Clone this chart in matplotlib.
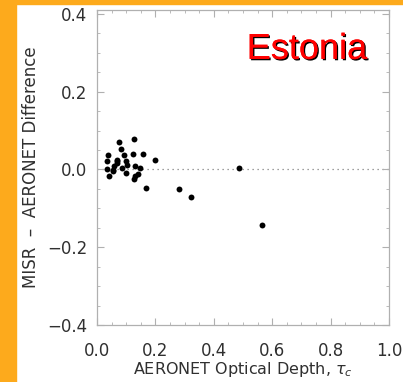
import numpy as np
import matplotlib.pyplot as plt
import matplotlib.patheffects as pe
from matplotlib.ticker import MultipleLocator

# MISR - AERONET differences, Estonia
aeronet_tau = [0.038, 0.035, 0.035, 0.042, 0.056, 0.058, 0.067, 0.074, 0.082, 0.070,
               0.085, 0.093, 0.099, 0.098, 0.104, 0.122, 0.127, 0.130, 0.131, 0.128,
               0.140, 0.147, 0.156, 0.168, 0.199, 0.281, 0.321, 0.485, 0.566,
               0.056, 0.067]
difference = [0.036, 0.021, 0.001, -0.016, -0.005, 0.008, 0.016, 0.071, 0.053, 0.025,
              0.003, 0.036, 0.021, -0.010, 0.012, 0.040, 0.079, 0.008, -0.016, -0.024,
              -0.012, 0.003, 0.041, -0.047, 0.025, -0.051, -0.070, 0.003, -0.144,
              -0.001, 0.023]

x_ticks = [0.0, 0.2, 0.4, 0.6, 0.8, 1.0]
y_ticks = [-0.4, -0.2, 0.0, 0.2, 0.4]

orange = "#FDAA1C"
gray = "#B0B0B0"
txt = "#303030"

fig = plt.figure(figsize=(4.03, 3.82), dpi=100)
fig.patch.set_facecolor("white")
# orange slide border on the left and top
fig.patches.append(plt.Rectangle((0, 0), 16 / 403, 1, transform=fig.transFigure,
                                 color=orange, zorder=0))
fig.patches.append(plt.Rectangle((0, 1 - 4 / 382), 1, 4 / 382, transform=fig.transFigure,
                                 color=orange, zorder=0))

ax = fig.add_axes([97 / 403, 1 - 325 / 382, 292 / 403, 315 / 382])
ax.scatter(aeronet_tau, difference, s=18, color="black", zorder=3, linewidths=0)
ax.axhline(0, color="#808080", linestyle=(0, (1, 3)), linewidth=0.9, zorder=1)

ax.set_xlim(0, 1.0)
ax.set_ylim(-0.4, 0.41)
ax.set_xticks(x_ticks)
ax.set_yticks(y_ticks)
ax.set_xticklabels(["%.1f" % v for v in x_ticks])
ax.set_yticklabels(["%.1f" % v if v >= 0 else "\u2212%.1f" % -v for v in y_ticks])
ax.xaxis.set_minor_locator(MultipleLocator(0.05))
ax.yaxis.set_minor_locator(MultipleLocator(0.05))
ax.tick_params(which="both", direction="in", top=True, right=True, color=gray,
               labelcolor=txt, labelsize=12)
ax.tick_params(which="major", length=5)
ax.tick_params(which="minor", length=2.5)
ax.tick_params(axis="x", pad=12)
ax.tick_params(axis="y", pad=7)
for s in ax.spines.values():
    s.set_color(gray)
    s.set_linewidth(0.9)

ax.set_xlabel(r"AERONET Optical Depth, $\tau_c$", color=txt, fontsize=11.5, labelpad=0)
ax.set_ylabel("MISR  \u2013  AERONET Difference", color=txt, fontsize=12, labelpad=5)

ax.text(0.925, 0.875, "Estonia", transform=ax.transAxes, ha="right", va="center",
        fontsize=26, color="#FF0000", family="Liberation Sans",
        path_effects=[pe.withSimplePatchShadow(offset=(1, -1), shadow_rgbFace="black", alpha=1),
                      pe.Normal()])

fig.savefig("out.png", dpi=100)
